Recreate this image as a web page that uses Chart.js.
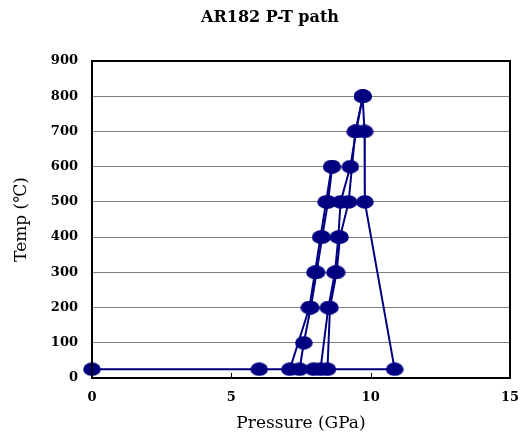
<!DOCTYPE html>
<html>
<head>
<meta charset="utf-8">
<script src="https://cdn.jsdelivr.net/npm/chart.js@4"></script>
<style>
    html, body { margin: 0; padding: 0; background: #fff; }
    #wrap { width: 521px; height: 432px; }
</style>
</head>
<body>
<div id="wrap"><canvas id="ptChart" width="521" height="432"></canvas></div>
<script>
// P-T path runs (pressure in GPa, temperature in degrees C)
const run1Pressure = [0, 6, 7.1, 7.8, 8.0, 8.2, 8.4, 8.6];
const run1Temp     = [25, 25, 25, 200, 300, 400, 500, 600];

const run2Pressure = [8.62, 8.47, 8.26, 8.06, 7.85, 7.6, 7.45];
const run2Temp     = [600, 500, 400, 300, 200, 100, 25];

const run3Pressure = [8.2, 8.48, 8.72, 8.84, 8.92, 9.27, 9.48, 9.71];
const run3Temp     = [25, 200, 300, 400, 500, 600, 700, 800];

const run4Pressure = [9.73, 9.45, 9.21, 8.9, 8.78, 8.54, 8.45];
const run4Temp     = [800, 700, 500, 400, 300, 200, 25];

const run5Pressure = [9.71, 9.78, 9.79, 10.86, 7.95];
const run5Temp     = [800, 700, 500, 25, 25];

const xTicks = [0, 5, 10, 15];
const yTicks = [0, 100, 200, 300, 400, 500, 600, 700, 800, 900];

const NAVY = '#000080';

function makeMarker() {
    const c = document.createElement('canvas');
    c.width = 18;
    c.height = 14;
    const g = c.getContext('2d');
    g.fillStyle = NAVY;
    g.beginPath();
    g.ellipse(9, 7, 8.8, 6.8, 0, 0, Math.PI * 2);
    g.fill();
    return c;
}

const marker = makeMarker();

function toPoints(pressures, temps) {
    return pressures.map((p, i) => ({ x: p, y: temps[i] }));
}

const runs = [
    [run1Pressure, run1Temp],
    [run2Pressure, run2Temp],
    [run3Pressure, run3Temp],
    [run4Pressure, run4Temp],
    [run5Pressure, run5Temp]
];

const datasets = runs.map(([p, t], i) => ({
    label: 'Run ' + (i + 1),
    data: toPoints(p, t),
    showLine: true,
    borderColor: NAVY,
    backgroundColor: NAVY,
    borderWidth: 2,
    pointStyle: marker,
    pointRadius: 7,
    pointBorderWidth: 0,
    pointHoverRadius: 7,
    clip: false
}));

// Title and the plot frame with the small inward x ticks
const framePlugin = {
    id: 'frame',
    afterDraw(chart) {
        const { ctx, chartArea } = chart;
        const xScale = chart.scales.x;
        ctx.save();
        ctx.strokeStyle = '#000';
        ctx.lineWidth = 2;
        ctx.strokeRect(chartArea.left, chartArea.top,
            chartArea.right - chartArea.left, chartArea.bottom - chartArea.top);
        ctx.lineWidth = 1;
        xTicks.slice(1, -1).forEach(v => {
            const px = Math.round(xScale.getPixelForValue(v)) + 0.5;
            ctx.beginPath();
            ctx.moveTo(px, chartArea.bottom);
            ctx.lineTo(px, chartArea.bottom - 5);
            ctx.stroke();
        });
        ctx.fillStyle = '#000';
        ctx.font = 'bold 16px "DejaVu Serif"';
        ctx.textAlign = 'center';
        ctx.textBaseline = 'middle';
        ctx.fillText('AR182 P-T path', 270, 18);
        ctx.restore();
    }
};

new Chart(document.getElementById('ptChart').getContext('2d'), {
    type: 'scatter',
    data: { datasets: datasets },
    options: {
        responsive: false,
        animation: false,
        layout: { padding: { top: 61, right: 11, bottom: 0, left: 0 } },
        plugins: {
            legend: { display: false },
            tooltip: { enabled: false }
        },
        scales: {
            x: {
                type: 'linear',
                min: 0,
                max: 15,
                afterBuildTicks: scale => { scale.ticks = xTicks.map(v => ({ value: v })); },
                afterFit: scale => {
                    scale.height = 54;
                    scale.paddingLeft = 0;
                    scale.paddingRight = 0;
                },
                grid: { display: false, drawTicks: false },
                border: { display: false },
                ticks: {
                    padding: 12,
                    color: '#000',
                    font: { family: 'DejaVu Serif', size: 13, weight: 'bold' }
                },
                title: {
                    display: true,
                    text: 'Pressure (GPa)',
                    color: '#000',
                    padding: { top: 0, bottom: 0 },
                    font: { family: 'DejaVu Serif', size: 17, lineHeight: 1 }
                }
            },
            y: {
                min: 0,
                max: 900,
                afterBuildTicks: scale => { scale.ticks = yTicks.map(v => ({ value: v })); },
                afterFit: scale => { scale.width = 92; },
                grid: { color: '#808080', lineWidth: 1, drawTicks: false },
                border: { display: false },
                ticks: {
                    padding: 14,
                    color: '#000',
                    font: { family: 'DejaVu Serif', size: 13, weight: 'bold' }
                },
                title: {
                    display: true,
                    text: 'Temp (℃)',
                    color: '#000',
                    padding: { top: 13, bottom: 0 },
                    font: { family: 'DejaVu Serif', size: 17, lineHeight: 1 }
                }
            }
        }
    },
    plugins: [framePlugin]
});
</script>
</body>
</html>
